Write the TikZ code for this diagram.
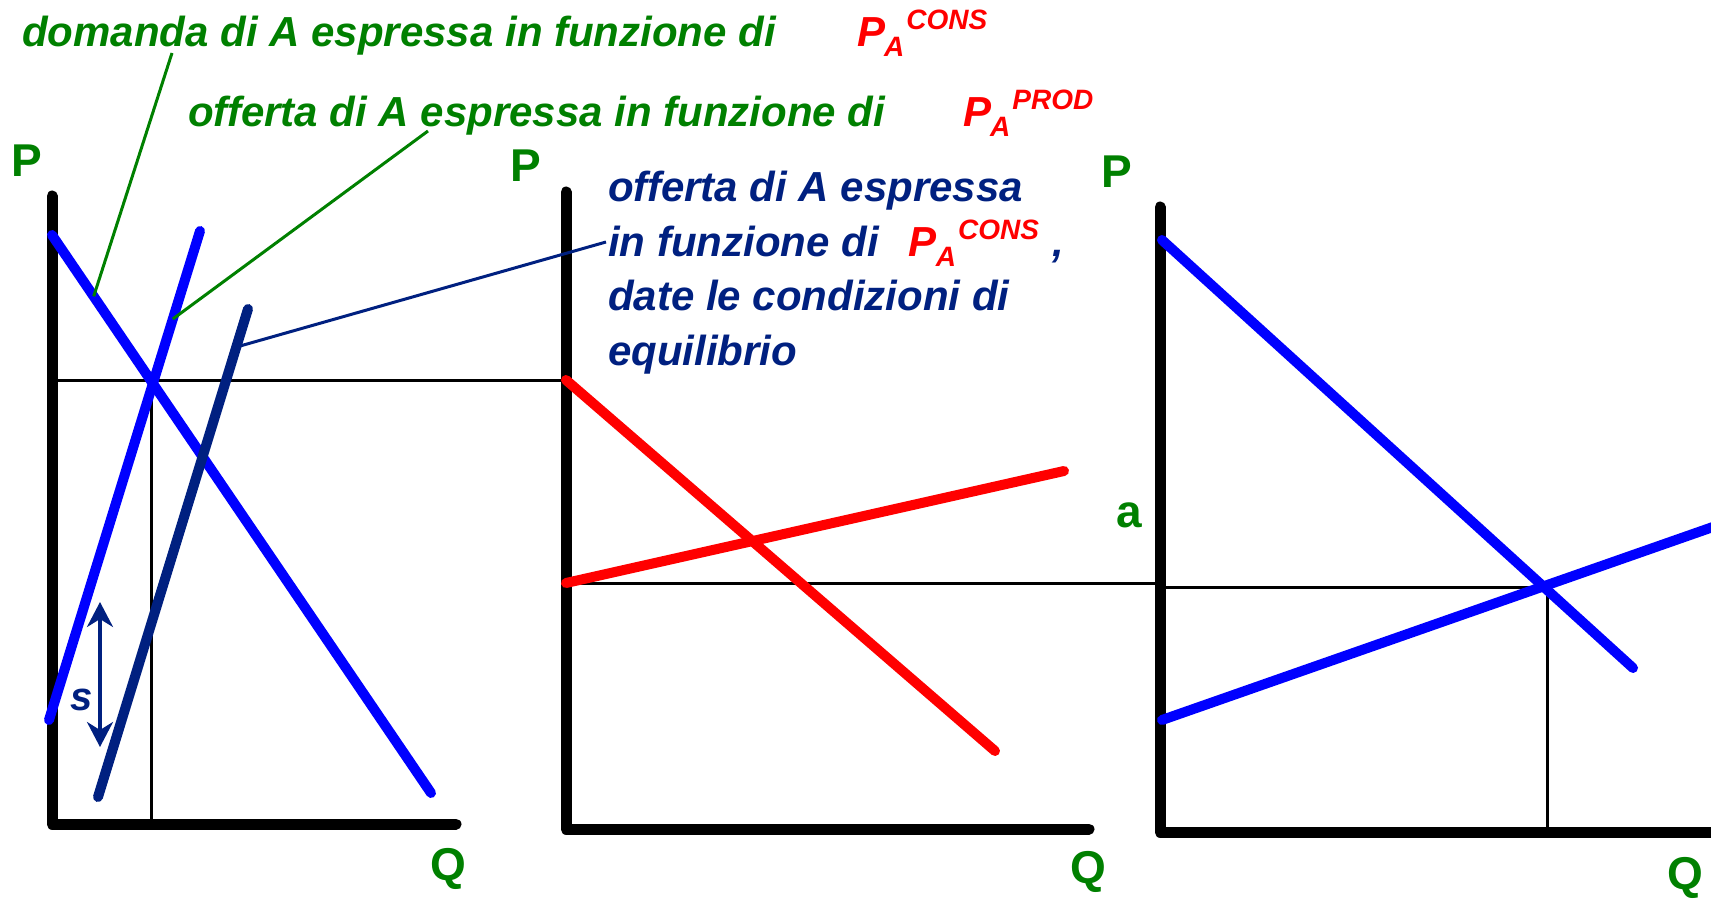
\documentclass[tikz,border=0pt]{standalone}
\usepackage{fontspec}
\setmainfont{Liberation Sans}
\usetikzlibrary{positioning,calc,arrows.meta}

\definecolor{curvegreen}{RGB}{0,128,0}
\definecolor{navyblue}{RGB}{0,32,128}
\newcommand{\priceA}[1]{P\kern-1pt\raisebox{-10pt}{\fontsize{28}{28}\selectfont A}\kern2pt\raisebox{17pt}{\fontsize{28}{28}\selectfont #1}}

\begin{document}
\begin{tikzpicture}[x=1pt,y=-1pt,
  axis/.style={line width=11pt,line cap=round,line join=round},
  curve/.style={line width=10pt,line cap=round},
  guide/.style={line width=3pt},
  leader/.style={line width=3pt},
  axlabel/.style={text=curvegreen,inner sep=0pt,font=\fontsize{46}{46}\selectfont\bfseries},
  caption/.style={inner sep=0pt,anchor=base west,font=\fontsize{42}{54.5}\selectfont\bfseries\itshape}]
\useasboundingbox (0,0) rectangle (1711,901);

% left panel
\coordinate (y1) at (52,196);
\coordinate (o1) at (52,824);
\coordinate (x1) at (456,824);
\coordinate (d1a) at (52,235);
\coordinate (d1b) at (431,793);
\coordinate (s1a) at (49,720);
\coordinate (s1b) at (200,231);
\coordinate (t1a) at (98,797);
\coordinate (t1b) at (248,309);
\coordinate (e1) at (151,380);
% middle panel
\coordinate (y2) at (566,192);
\coordinate (o2) at (566,829);
\coordinate (x2) at (1089,829);
\coordinate (d2b) at (995,751);
\coordinate (s2a) at (566,583);
\coordinate (s2b) at (1064,471);
% right panel
\coordinate (y3) at (1160,207);
\coordinate (o3) at (1160,832);
\coordinate (x3) at (1730,832);
\coordinate (d3a) at (1162,240);
\coordinate (d3b) at (1633,668);
\coordinate (s3a) at (1162,720);
\coordinate (s3b) at (1730,521);
\coordinate (e3) at (1547,587);

\draw[axis] (y1) -- (o1) -- (x1);
\draw[axis] (y2) -- (o2) -- (x2);
\draw[axis] (y3) -- (o3) -- (x3);

\draw[guide] (o1 |- e1) -- (o2 |- e1);
\draw[guide] (e1) -- (e1 |- o1);
\draw[guide] (s2a) -- (o3 |- s2a);
\draw[guide] (o3 |- e3) -- (e3) -- (e3 |- o3);

\draw[curve,blue] (d1a) -- (d1b);
\draw[curve,blue] (s1a) -- (s1b);
\draw[curve,navyblue] (t1a) -- (t1b);
\draw[curve,red] (o2 |- e1) -- (d2b);
\draw[curve,red] (s2a) -- (s2b);
\draw[curve,blue] (d3a) -- (d3b);
\draw[curve,blue] (s3a) -- (s3b);

% shift of supply
\coordinate (sTop) at (100,602);
\coordinate (sBot) at (100,747);
\draw[navyblue,line width=3.5pt,{Stealth[length=25pt,width=26pt,inset=8pt]}-{Stealth[length=25pt,width=26pt,inset=8pt]}] (sTop) -- (sBot);
\node[text=navyblue,inner sep=0pt,font=\fontsize{40}{40}\selectfont\bfseries\itshape] (slbl) at (82,700) {s};

% axis labels
\node[axlabel] (P1) at (27,161) {P};
\node[axlabel] (P2) at (526,166) {P};
\node[axlabel] (P3) at (1117,172) {P};
\node[axlabel] (Q1) at (448,869) {Q};
\node[axlabel] (Q2) at (1088,872) {Q};
\node[axlabel] (Q3) at (1685,878) {Q};
\node[axlabel] (a3) at (1129,515) {a};

% captions
\node[caption,text=curvegreen] (dom) at (22,47) {domanda di A espressa in funzione di};
\node[caption,text=red] (domP) at (857,47) {\priceA{CONS}};
\node[caption,text=curvegreen] (off) at (188,127) {offerta di A espressa in funzione di};
\node[caption,text=red] (offP) at (963,127) {\priceA{PROD}};
\node[caption,text=navyblue,align=left] (eqtxt) at (608,365) {offerta di A espressa\\in funzione di\hspace{30pt}{\color{red}\priceA{CONS}}\hspace{14pt},\\date le condizioni di\\equilibrio};

% leaders
\coordinate (domlead) at (172,53);
\coordinate (dmark) at ($(d1a)!0.11!(d1b)$);
\coordinate (offlead) at (428,131);
\coordinate (smark) at ($(s1a)!0.82!(s1b)$);
\coordinate (eqlead) at (606,242);
\coordinate (tmark) at ($(t1a)!0.922!(t1b)$);
\draw[leader,curvegreen] (domlead) -- (dmark);
\draw[leader,curvegreen] (offlead) -- (smark);
\draw[leader,navyblue] (eqlead) -- (tmark);
\end{tikzpicture}
\end{document}
